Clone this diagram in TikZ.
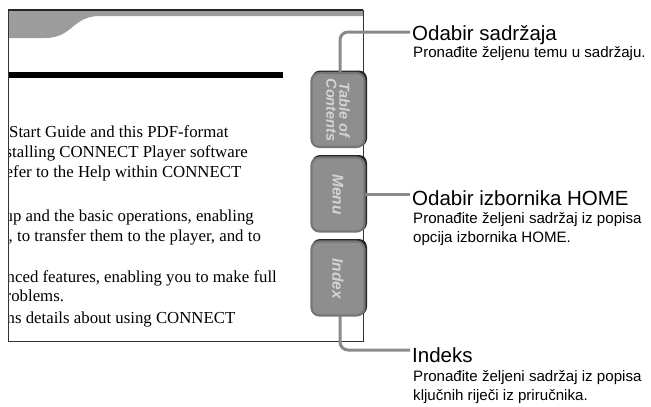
\documentclass[tikz,border=0pt]{standalone}
\usepackage{fontspec}
\setmainfont{Liberation Serif}
\setsansfont{Liberation Sans}
\usetikzlibrary{calc}
\definecolor{tabfill}{HTML}{8E8E8E}
\definecolor{tabedge}{HTML}{767676}
\definecolor{tabtext}{HTML}{D4D4D4}
\definecolor{leadgray}{HTML}{8A8A8A}
\definecolor{headgray}{HTML}{9C9C9C}
\tikzset{>=latex}
\tikzset{
  tabbox/.style={draw=tabedge, line width=2.2pt, fill=tabfill, rounded corners=8pt, minimum width=53pt, minimum height=74pt, inner sep=0pt},
  tabshadow/.style={fill=black!85, rounded corners=8pt, minimum width=55pt, minimum height=76pt, inner sep=0pt},
  tablabel/.style={text=tabtext, font=\sffamily\bfseries\itshape\fontsize{14.5}{13}\selectfont, rotate=-90, align=center, inner sep=0pt},
  leaderline/.style={draw=leadgray, line width=3pt, rounded corners=8pt},
  labtitle/.style={anchor=base west, inner sep=0pt, font=\sffamily\fontsize{20.5}{22}\selectfont},
  labdesc/.style={anchor=base west, inner sep=0pt, align=left, font=\sffamily\fontsize{15.1}{18.5}\selectfont},
  pagetext/.style={anchor=base west, inner sep=0pt, font=\fontsize{16.8}{20}\selectfont}
}

\begin{document}
\begin{tikzpicture}[x=1pt, y=-1pt]

\useasboundingbox (0,0) rectangle (651,407);

\def\pl{8}
\def\pr{363}
\def\pt{10}
\def\pb{341}

% Page header
\fill[headgray] (\pl,\pt) -- (\pr,\pt) -- (\pr,16) -- (100,16) .. controls (72,16) and (73,38) .. (45,38) -- (\pl,38) -- cycle;
\fill (\pl,72) rectangle (283,78);

% Page text
\begin{scope}
\clip (\pl,\pt) rectangle (\pr,\pb);
\node[pagetext] (t1) at (9,137) {Start Guide and this PDF-format};
\node[pagetext] (t2) at (5.5,157) {stalling CONNECT Player software};
\node[pagetext] (t3) at (5.5,177) {efer to the Help within CONNECT};
\node[pagetext] (t4) at (4.5,221) {up and the basic operations, enabling};
\node[pagetext] (t5) at (8.5,241) {, to transfer them to the player, and to};
\node[pagetext] (t6) at (6.5,282) {nced features, enabling you to make full};
\node[pagetext] (t7) at (5.5,301) {roblems.};
\node[pagetext] (t8) at (6.5,323) {ns details about using CONNECT};
\end{scope}

% Page frame
\draw[black!80, line width=0.9pt] (\pl,\pt) rectangle (\pr,\pb);
\draw[black!85, line width=1.6pt] (\pl,\pt) -- (\pr,\pt);

% Leader ends
\coordinate (tocend) at (410,32);
\coordinate (menuend) at (410,194.5);
\coordinate (indexend) at (410,350);

% Tabs
\node[tabshadow] (tocsh) at (339.5,108.5) {};
\node[tabshadow] (menush) at (339.5,193) {};
\node[tabshadow] (indexsh) at (339.5,277) {};

\draw[leaderline] (340,110) |- (tocend);
\draw[leaderline] (338,194.5) -- (menuend);
\draw[leaderline] (340,278.5) |- (indexend);

\node[tabbox] (toc) at (338,110) {};
\node[tabbox] (menu) at (338,194.5) {};
\node[tabbox] (index) at (338,278.5) {};

\node[tablabel] (toctext) at (toc) {Table of\\Contents};
\node[tablabel, font=\sffamily\bfseries\itshape\fontsize{15.5}{14}\selectfont] (menutext) at (menu) {Menu};
\node[tablabel, font=\sffamily\bfseries\itshape\fontsize{15.5}{14}\selectfont] (indextext) at (index) {Index};

% Labels
\node[labtitle] (toctitle) at (412,40) {Odabir sadržaja};
\node[labdesc] (tocdesc) at (413,57) {Pronađite željenu temu u sadržaju.};

\node[labtitle] (menutitle) at (412,205) {Odabir izbornika HOME};
\node[labdesc] (menudesc) at (413,242) {Pronađite željeni sadržaj iz popisa\\opcija izbornika HOME.};

\node[labtitle] (indextitle) at (412,362) {Indeks};
\node[labdesc] (indexdesc) at (413,400) {Pronađite željeni sadržaj iz popisa\\ključnih riječi iz priručnika.};

\end{tikzpicture}
\end{document}
